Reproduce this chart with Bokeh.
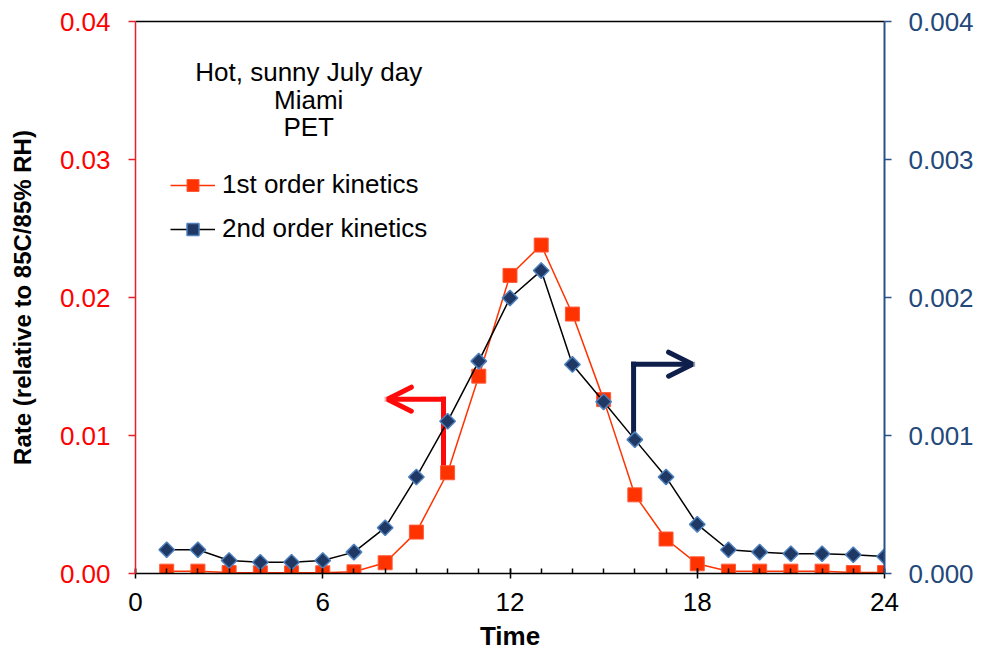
from bokeh.plotting import figure
from bokeh.models import (Range1d, LinearAxis, FixedTicker, PrintfTickFormatter,
                          Legend, LegendItem, Arrow, OpenHead)
from bokeh.embed import file_html
from bokeh.resources import INLINE
from bokeh.core.properties import value

# ---------------- data ----------------
hours = list(range(1, 25))
first_order = [0.00017, 0.00017, 0.00007, 0.00005, 0.00005, 0.00005, 0.00012, 0.00078,
               0.0030, 0.0073, 0.0143, 0.0216, 0.0238, 0.0188, 0.0126, 0.0057,
               0.0025, 0.0007, 0.00017, 0.00017, 0.00017, 0.00017, 0.00007, 0.00007]
second_order = [0.000172, 0.000172, 0.000094, 0.000082, 0.000082, 0.000094, 0.000155, 0.000332,
                0.000699, 0.001103, 0.001539, 0.001996, 0.002195, 0.001515, 0.001244, 0.000970,
                0.000699, 0.000356, 0.000172, 0.000155, 0.000143, 0.000143, 0.000136, 0.000123]

x_ticks = [0, 6, 12, 18, 24]
x_minor = list(range(0, 25))
left_ticks = [0.0, 0.01, 0.02, 0.03, 0.04]
right_ticks = [0.0, 0.001, 0.002, 0.003, 0.004]

note_lines = ["Hot, sunny July day", "Miami", "PET"]
note_x = [5.55, 5.55, 5.55]
note_y = [0.03637, 0.03434, 0.03238]

# arrow anchors (annotation positions, data coords of the left axis)
red_arrow = dict(x_corner=9.87, y_bottom=0.0077, y_corner=0.01263, x_tip=8.07)
navy_arrow = dict(x_corner=15.96, y_bottom=0.00987, y_corner=0.01517, x_tip=17.85)

FONT = "Liberation Sans"
FS = "26px"
RED_SERIES = "#ff3300"
NAVY_FILL = "#1f3864"
NAVY_EDGE = "#4f81bd"
LEFT_COLOR = "#ff0000"
RIGHT_COLOR = "#23487a"

p = figure(width=984, height=653, x_range=Range1d(0, 24), y_range=Range1d(0, 0.04),
           output_backend="svg", toolbar_location=None,
           min_border_left=135, min_border_right=100, min_border_top=21, min_border_bottom=80,
           background_fill_color="white", border_fill_color="white")
p.outline_line_color = None
p.xgrid.visible = False
p.ygrid.visible = False
p.extra_y_ranges = {"right": Range1d(0, 0.004)}

# x axis
xa = p.xaxis[0]
xa.ticker = FixedTicker(ticks=x_ticks, minor_ticks=x_minor)
xa.axis_line_color = "black"
xa.axis_line_width = 1.5
xa.major_tick_line_color = "black"
xa.major_tick_line_width = 1.5
xa.major_tick_in = 5
xa.major_tick_out = 5
xa.minor_tick_line_color = "black"
xa.minor_tick_line_width = 1.5
xa.minor_tick_in = 5
xa.minor_tick_out = 0
xa.major_label_text_font = FONT
xa.major_label_text_font_size = FS
xa.major_label_text_color = "black"
xa.major_label_text_line_height = 1.0
xa.major_label_standoff = 14
xa.axis_label = "Time"
xa.axis_label_text_font = FONT
xa.axis_label_text_font_size = "26px"
xa.axis_label_text_font_style = "bold"
xa.axis_label_text_color = "black"
xa.axis_label_text_line_height = 1.0
xa.axis_label_standoff = 7

# left axis
ya = p.yaxis[0]
ya.ticker = FixedTicker(ticks=left_ticks)
ya.formatter = PrintfTickFormatter(format="%.2f")
ya.axis_line_color = "#e8202a"
ya.axis_line_width = 1.5
ya.major_tick_line_color = "#e8202a"
ya.major_tick_line_width = 1.5
ya.major_tick_in = 0
ya.major_tick_out = 7
ya.minor_tick_line_color = None
ya.major_label_text_font = FONT
ya.major_label_text_font_size = FS
ya.major_label_text_color = LEFT_COLOR
ya.major_label_standoff = 18
ya.axis_label = "Rate (relative to 85C/85% RH)"
ya.axis_label_text_font = FONT
ya.axis_label_text_font_size = "24px"
ya.axis_label_text_font_style = "bold"
ya.axis_label_text_color = "black"
ya.axis_label_standoff = 21

# right axis
ra = LinearAxis(y_range_name="right", ticker=FixedTicker(ticks=right_ticks),
                formatter=PrintfTickFormatter(format="%.3f"))
ra.axis_line_color = "#2a5289"
ra.axis_line_width = 2
ra.major_tick_line_color = "#2a5289"
ra.major_tick_line_width = 1.5
ra.major_tick_in = 0
ra.major_tick_out = 7
ra.minor_tick_line_color = None
ra.major_label_text_font = FONT
ra.major_label_text_font_size = FS
ra.major_label_text_color = RIGHT_COLOR
ra.major_label_standoff = 17
p.add_layout(ra, "right")

# top border line
ta = LinearAxis(ticker=FixedTicker(ticks=[]))
ta.axis_line_color = "black"
ta.axis_line_width = 1.5
ta.major_tick_line_color = None
ta.minor_tick_line_color = None
ta.major_label_text_font_size = "0px"
ta.major_label_standoff = 0
p.add_layout(ta, "above")

# arrows (behind the series)
for arr, col in ((red_arrow, "#ff0a0a"), (navy_arrow, "#0f1f4b")):
    p.segment(x0=[arr["x_corner"]], y0=[arr["y_bottom"]], x1=[arr["x_corner"]], y1=[arr["y_corner"]],
              line_color=col, line_width=5, line_cap="square")
    p.add_layout(Arrow(end=OpenHead(size=24, line_width=5, line_color=col, line_cap="round"),
                       x_start=arr["x_corner"], y_start=arr["y_corner"],
                       x_end=arr["x_tip"], y_end=arr["y_corner"],
                       line_color=col, line_width=5, line_cap="square", level="underlay"))

# series
l1 = p.line(hours, first_order, line_color=RED_SERIES, line_width=1.5)
s1 = p.scatter(hours, first_order, marker="square", size=14, fill_color=RED_SERIES,
               line_color="#ff5a3a", line_width=1)
l2 = p.line(hours, second_order, y_range_name="right", line_color="black", line_width=1.5)
s2 = p.scatter(hours, second_order, y_range_name="right", marker="square", angle=0.7854, size=11,
               fill_color=NAVY_FILL, line_color=NAVY_EDGE, line_width=1.5)

# annotation text
p.text(x=note_x, y=note_y, text=note_lines, text_font=value(FONT), text_font_size=FS,
       text_align="center", text_baseline="alphabetic", text_color="black")

legend = Legend(items=[LegendItem(label="1st order kinetics", renderers=[l1, s1]),
                       LegendItem(label="2nd order kinetics", renderers=[l2, s2])],
                location=(35, 329), orientation="vertical",
                label_text_font=FONT, label_text_font_size=FS, label_text_color="black",
                glyph_width=45, glyph_height=30, label_height=30, spacing=13,
                padding=0, margin=0, label_standoff=7,
                border_line_color=None, background_fill_alpha=0)
p.add_layout(legend)

open("out.html", "w").write(file_html(p, INLINE))
